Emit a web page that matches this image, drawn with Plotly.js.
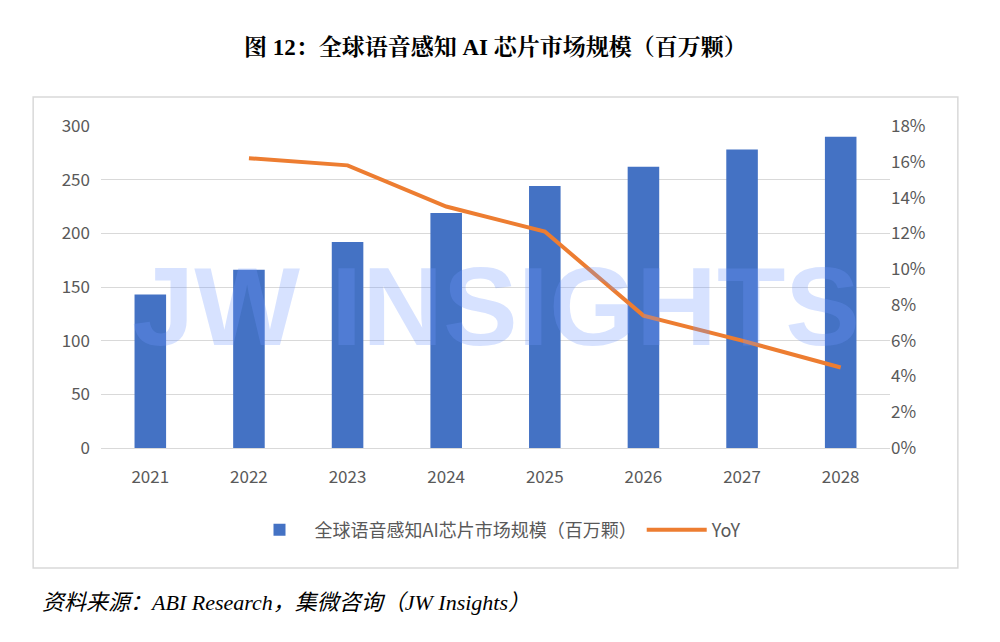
<!DOCTYPE html>
<html>
<head>
<meta charset="utf-8">
<script src="https://cdn.plot.ly/plotly-3.0.1.min.js"></script>
<style>body{margin:0;background:#fff}</style>
</head>
<body>
<div id="chart" style="width:1000px;height:642px"></div>
<script>
var years = ['2021', '2022', '2023', '2024', '2025', '2026', '2027', '2028'];
var shipments = [143, 166, 192, 219, 244, 262, 278, 290];
var yoyYears = ['2022', '2023', '2024', '2025', '2026', '2027', '2028'];
var yoy = [0.162, 0.158, 0.135, 0.121, 0.074, 0.060, 0.045];

var tickFont = {family: 'Noto Sans CJK SC, Noto Sans, sans-serif', size: 17, color: '#595959'};

var data = [
  {
    x: years, y: shipments, type: 'bar', name: '全球语音感知AI芯片市场规模（百万颗）',
    marker: {color: '#4472c4'}, width: 0.32
  },
  {
    x: yoyYears, y: yoy, type: 'scatter', mode: 'lines', name: 'YoY', yaxis: 'y2',
    line: {color: '#ed7d31', width: 4}
  }
];

var layout = {
  width: 1000, height: 642,
  margin: {l: 101, r: 110, t: 126, b: 194},
  paper_bgcolor: '#fff', plot_bgcolor: 'rgba(0,0,0,0)',
  showlegend: true,
  legend: {orientation: 'h', x: 0.5, xanchor: 'center', y: -0.255, yanchor: 'middle',
    itemwidth: 60,
    font: {family: 'Noto Sans CJK SC, sans-serif', size: 18, color: '#595959'}},
  xaxis: {type: 'category', tickfont: tickFont, showline: true, linecolor: '#d9d9d9', ticks: '', ticklabelstandoff: 14},
  yaxis: {range: [0, 300], dtick: 50, tickfont: tickFont, gridcolor: '#d9d9d9', zeroline: false, ticklabelstandoff: 10},
  yaxis2: {overlaying: 'y', side: 'right', range: [0, 0.18], dtick: 0.02, tickformat: '.0%',
    tickfont: tickFont, showgrid: false, zeroline: false},
  shapes: [{type: 'rect', xref: 'paper', yref: 'paper', x0: -0.086, x1: 1.086, y0: -0.373, y1: 1.09,
    line: {color: '#d9d9d9', width: 1.5}, layer: 'below'}],
  annotations: [
    {xref: 'paper', yref: 'paper', x: 0.5, y: 1.29, showarrow: false,
      text: '<b>图 12：全球语音感知 AI 芯片市场规模（百万颗）</b>',
      font: {family: 'Liberation Serif, Noto Serif CJK SC, Noto Sans CJK SC, serif', size: 23, color: '#000'}},
    {xref: 'paper', yref: 'paper', x: -0.077, xanchor: 'left', y: -0.48, yanchor: 'middle', showarrow: false,
      text: '<i>资料来源：ABI Research，集微咨询（JW Insights）</i>',
      font: {family: 'Liberation Serif, Noto Sans CJK SC, serif', size: 22, color: '#000'}},
    {xref: 'paper', yref: 'paper', x: 0.5, y: 0.44, showarrow: false,
      text: '<b>JW INSIGHTS</b>',
      font: {family: 'Liberation Sans, Arial, sans-serif', size: 112, color: 'rgba(110,150,255,0.28)'}}
  ]
};

Plotly.newPlot('chart', data, layout, {displayModeBar: false});
</script>
</body>
</html>
